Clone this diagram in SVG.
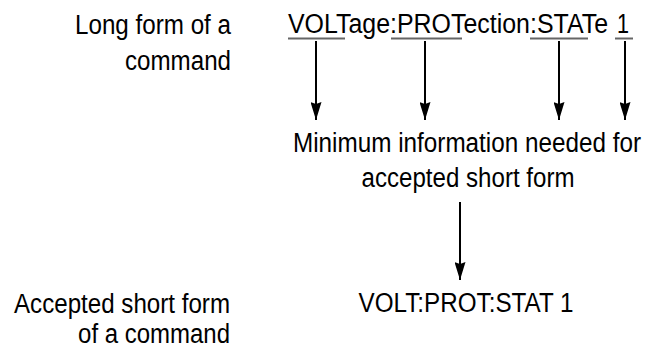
<svg xmlns="http://www.w3.org/2000/svg" width="645" height="349" viewBox="0 0 645 349">
<defs>
<style>
text{font-family:"Liberation Sans",Arial,sans-serif;font-size:28px;fill:#000}
.ul{stroke:#666;stroke-width:2;fill:none}
.con{stroke:#000;stroke-width:2;fill:none;marker-end:url(#ah)}
</style>
<marker id="ah" markerWidth="18" markerHeight="11" refX="18" refY="5.5" orient="auto" markerUnits="userSpaceOnUse" viewBox="0 0 18 11">
<path d="M0,0 L18,5.5 L0,11 L2,5.5 Z" fill="#000"/>
</marker>
</defs>
<rect width="645" height="349" fill="#fff"/>
<g id="label-long">
<text transform="matrix(0.86 0 0 1 231 34)" text-anchor="end" textLength="181.4" lengthAdjust="spacingAndGlyphs">Long form of a</text>
<text transform="matrix(0.86 0 0 1 231 70)" text-anchor="end" textLength="123.3" lengthAdjust="spacingAndGlyphs">command</text>
</g>
<g id="long-command">
<text transform="matrix(0.86 0 0 1 288 33)" textLength="372.1" lengthAdjust="spacingAndGlyphs">VOLTage:PROTection:STATe</text>
<text transform="matrix(0.86 0 0 1 617 33)" textLength="14" lengthAdjust="spacingAndGlyphs">1</text>
<line class="ul" x1="288" y1="38.5" x2="345" y2="38.5"/>
<line class="ul" x1="391" y1="38.5" x2="462" y2="38.5"/>
<line class="ul" x1="530" y1="38.5" x2="588" y2="38.5"/>
<line class="ul" x1="615" y1="38.5" x2="633" y2="38.5"/>
</g>
<g id="minimum">
<text transform="matrix(0.86 0 0 1 467 152)" text-anchor="middle" textLength="404.7" lengthAdjust="spacingAndGlyphs">Minimum information needed for</text>
<text transform="matrix(0.86 0 0 1 468 187)" text-anchor="middle" textLength="247.7" lengthAdjust="spacingAndGlyphs">accepted short form</text>
</g>
<g id="short-command">
<text transform="matrix(0.86 0 0 1 466 312)" text-anchor="middle" textLength="250" lengthAdjust="spacingAndGlyphs">VOLT:PROT:STAT 1</text>
</g>
<g id="label-short">
<text transform="matrix(0.86 0 0 1 230 313)" text-anchor="end" textLength="251.2" lengthAdjust="spacingAndGlyphs">Accepted short form</text>
<text transform="matrix(0.86 0 0 1 230 343)" text-anchor="end" textLength="176.7" lengthAdjust="spacingAndGlyphs">of a command</text>
</g>
<g id="connectors">
<line class="con" x1="316" y1="41" x2="316" y2="120"/>
<line class="con" x1="425" y1="41" x2="425" y2="120"/>
<line class="con" x1="559" y1="41" x2="559" y2="120"/>
<line class="con" x1="625" y1="41" x2="625" y2="120"/>
<line class="con" x1="460" y1="202" x2="460" y2="280"/>
</g>
</svg>
